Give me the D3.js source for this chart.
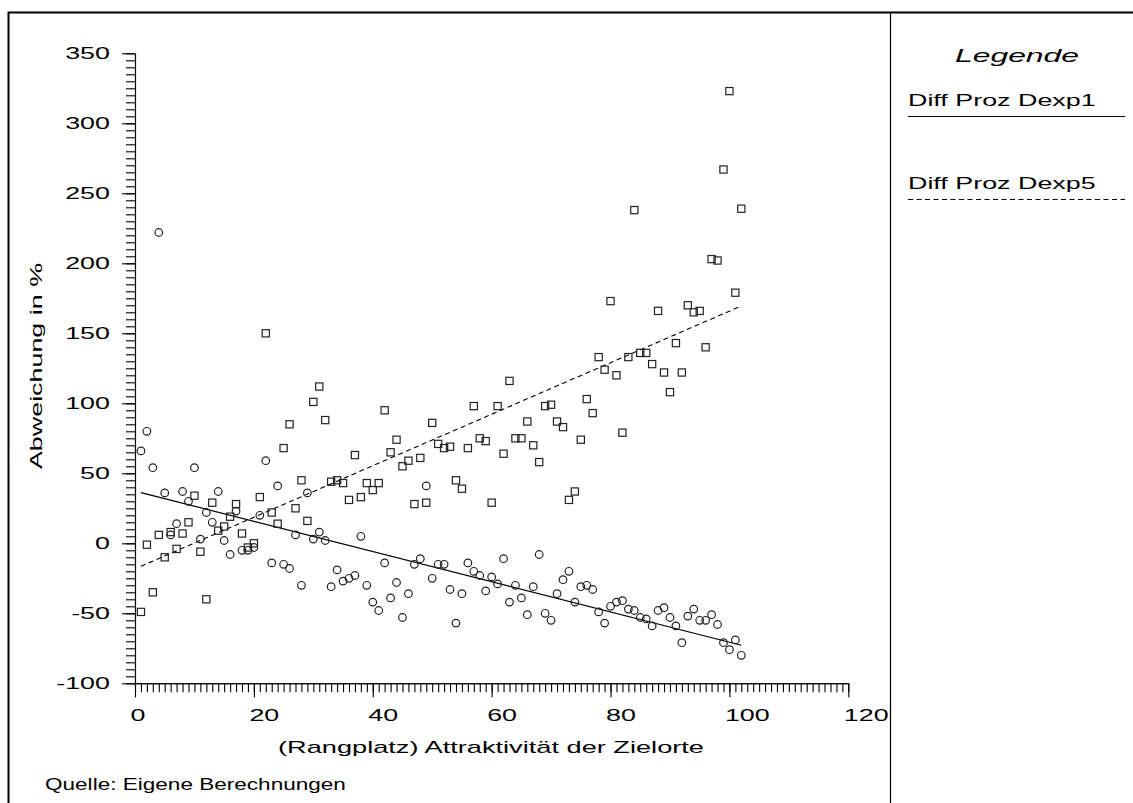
<!DOCTYPE html>
<html><head><meta charset="utf-8">
<script src="https://cdn.jsdelivr.net/npm/d3@7"></script>
<style>
html,body{margin:0;padding:0;background:#fff;}
svg{display:block;background:#fff;}
text{font-family:"Liberation Sans",Arial,Helvetica,sans-serif;fill:#000;}
</style></head><body>
<svg id="chart" width="1133" height="803"></svg>
<script>
// ---- data ----
const ranks = [1,2,3,4,5,6,7,8,9,10,11,12,13,14,15,16,17,18,19,20,
  21,22,23,24,25,26,27,28,29,30,31,32,33,34,35,36,37,38,39,40,
  41,42,43,44,45,46,47,48,49,50,51,52,53,54,55,56,57,58,59,60,
  61,62,63,64,65,66,67,68,69,70,71,72,73,74,75,76,77,78,79,80,
  81,82,83,84,85,86,87,88,89,90,91,92,93,94,95,96,97,98,99,100,101,102];
const dexp1 = [66,80,54,222,36,6,14,37,30,54,
  3,22,15,37,2,-8,23,-5,-5,-3,
  20,59,-14,41,-15,-18,6,-30,36,3,
  8,2,-31,-19,-27,-25,-23,5,-30,-42,
  -48,-14,-39,-28,-53,-36,-15,-11,41,-25,
  -15,-15,-33,-57,-36,-14,-20,-23,-34,-24,
  -29,-11,-42,-30,-39,-51,-31,-8,-50,-55,
  -36,-26,-20,-42,-31,-30,-33,-49,-57,-45,
  -42,-41,-47,-48,-53,-54,-59,-48,-46,-53,
  -59,-71,-52,-47,-55,-55,-51,-58,-71,-76,-69,-80];
const dexp5 = [-49,-1,-35,6,-10,8,-4,7,15,34,
  -6,-40,29,9,12,19,28,7,-3,0,
  33,150,22,14,68,85,25,45,16,101,
  112,88,44,45,43,31,63,33,43,38,
  43,95,65,74,55,59,28,61,29,86,
  71,68,69,45,39,68,98,75,73,29,
  98,64,116,75,75,87,70,58,98,99,
  87,83,31,37,74,103,93,133,124,173,
  120,79,133,238,136,136,128,166,122,108,
  143,122,170,165,166,140,203,202,267,323,179,239];
const fitDexp1 = [[1,36.2],[102,-72.8]];
const fitDexp5 = [[1,-16.4],[102,169.5]];
const xTicks = [0,20,40,60,80,100,120];
const yTicks = [-100,-50,0,50,100,150,200,250,300,350];
const legendTitle = "Legende";
const legendLabels = ["Diff Proz Dexp1","Diff Proz Dexp5"];
const xTitle = "(Rangplatz) Attraktivität der Zielorte";
const yTitle = "Abweichung in %";
const source = "Quelle: Eigene Berechnungen";

// ---- drawing ----
const SX = 1.68;
const svg = d3.select("#chart");
const x = d3.scaleLinear().domain([0,120]).range([135,848.3]);
const y = d3.scaleLinear().domain([-100,350]).range([683.3,53.3]);

// frame
svg.append("rect").attr("x",8.5).attr("y",12.5).attr("width",1200).attr("height",900)
  .attr("fill","none").attr("stroke","#000").attr("stroke-width",2);
svg.append("line").attr("x1",890.5).attr("x2",890.5).attr("y1",13).attr("y2",803)
  .attr("stroke","#000").attr("stroke-width",1.2);

function styleAxis(g){
  g.selectAll("path,line").attr("stroke","#000").attr("stroke-width",1.1);
  g.attr("font-family",null).attr("font-size",null);
}
// y axis
const gyMinor = svg.append("g").attr("transform","translate(135,0)")
  .call(d3.axisLeft(y).tickValues(d3.range(-100,351,5)).tickSize(9).tickSizeOuter(0).tickFormat(""));
styleAxis(gyMinor);
const gy = svg.append("g").attr("transform","translate(135,0)")
  .call(d3.axisLeft(y).tickValues(yTicks).tickSize(13).tickSizeOuter(0).tickFormat(d => String(d)));
styleAxis(gy);
gy.selectAll("text").attr("x",null).attr("dy","0.33em").attr("text-anchor","end")
  .attr("transform",`translate(-25,0) scale(${SX},1)`).style("font-size","16px").style("fill","#000");

// x axis
const gxMinor = svg.append("g").attr("transform",`translate(0,${y(-100)})`)
  .call(d3.axisBottom(x).tickValues(d3.range(0,121,1)).tickSize(9).tickSizeOuter(0).tickFormat(""));
styleAxis(gxMinor);
const gx = svg.append("g").attr("transform",`translate(0,${y(-100)})`)
  .call(d3.axisBottom(x).tickValues(xTicks).tickSize(14).tickSizeOuter(0).tickFormat(d => String(d)));
styleAxis(gx);
gx.selectAll("text").attr("y",null).attr("dy",null).attr("text-anchor","start")
  .attr("transform",`translate(-5,37.5) scale(${SX},1)`).style("font-size","16px").style("fill","#000");

// trend lines
const line = d3.line().x(d => x(d[0])).y(d => y(d[1]));
svg.append("path").attr("d",line(fitDexp1)).attr("fill","none").attr("stroke","#000").attr("stroke-width",1.2);
svg.append("path").attr("d",line(fitDexp5)).attr("fill","none").attr("stroke","#000").attr("stroke-width",1.1)
  .attr("stroke-dasharray","5,3.5");

// markers
const sq = 7.2;
svg.append("g").selectAll("rect").data(ranks).join("rect")
  .attr("x",(d,i) => x(d) - sq/2).attr("y",(d,i) => y(dexp5[i]) - sq/2)
  .attr("width",sq).attr("height",sq)
  .attr("fill","none").attr("stroke","#222").attr("stroke-width",1.2);
svg.append("g").selectAll("circle").data(ranks).join("circle")
  .attr("cx",d => x(d)).attr("cy",(d,i) => y(dexp1[i])).attr("r",3.8)
  .attr("fill","none").attr("stroke","#222").attr("stroke-width",1.2);

// texts
function label(txt, tx, ty, anchor, size, sx, extra){
  return svg.append("text").attr("text-anchor",anchor)
    .attr("transform",`translate(${tx},${ty})${extra||""} scale(${sx},1)`)
    .style("font-size",size+"px").text(txt);
}
label(xTitle, 278, 753, "start", 16, 1.7);
label(yTitle, 42, 366, "middle", 16, SX, " rotate(-90)");
label(source, 45, 790, "start", 16, 1.41);
label(legendTitle, 1017, 62, "middle", 19, SX).style("font-style","italic");
label(legendLabels[0], 908, 106, "start", 16, SX);
label(legendLabels[1], 908, 189, "start", 16, SX);
svg.append("line").attr("x1",908).attr("x2",1125).attr("y1",116.5).attr("y2",116.5)
  .attr("stroke","#000").attr("stroke-width",1.2);
svg.append("line").attr("x1",908).attr("x2",1125).attr("y1",199.5).attr("y2",199.5)
  .attr("stroke","#000").attr("stroke-width",1.1).attr("stroke-dasharray","5,3.5");
</script>
</body></html>
